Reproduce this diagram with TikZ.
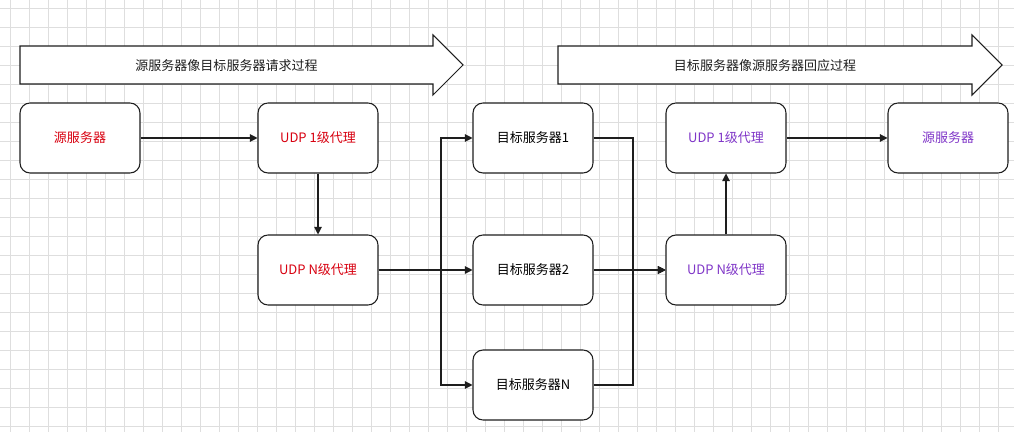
\documentclass[tikz,border=0pt]{standalone}
\usepackage{fontspec}
\newfontfamily\cjk{Noto Sans CJK SC}
\usetikzlibrary{arrows.meta}
\definecolor{hongse}{HTML}{D80010}
\definecolor{zise}{HTML}{8036C8}
\definecolor{xian}{HTML}{1E1E1E}
\tikzset{
  gridline/.style={draw=black!13, line width=0.5pt},
  kuang/.style={draw=xian, fill=white, rounded corners=0.2cm, line width=0.6pt,
    minimum width=2.4cm, minimum height=1.4cm, font=\cjk\fontsize{7.4}{9}\selectfont},
  jiantou/.style={draw=xian, line width=0.6pt, -{Triangle[length=0.15cm,width=0.15cm]}},
  datoubox/.style={draw=xian, fill=white, line width=0.6pt}
}
\newcommand{\kuang}[5]{\node[kuang, text=#5] (#1) at (#2,#3) {#4};}
\newcommand{\datou}[4]{
  \draw[datoubox] (#2,46)--(#3,46)--(#3,35)--(#3+30,65)--(#3,95)--(#3,84)--(#2,84)--cycle;
  \node[font=\cjk\fontsize{7.4}{9}\selectfont, text=xian] (#1) at ({(#2+#3)/2},66) {#4};
}

\begin{document}
\begin{tikzpicture}[x=0.02cm, y=-0.02cm]

  \useasboundingbox (0,0) rectangle (1014,432);
  \fill[white] (0,0) rectangle (1014,432);

  % Wangge
  % ======
  \foreach \x in {10, 29, ..., 1014}
  \draw[gridline] (\x,0)--(\x,432);
  \foreach \y in {8, 27, ..., 432}
  \draw[gridline] (0,\y)--(1014,\y);

  % Datou
  % =====
  \datou{qingqiu}{20}{433}{源服务器像目标服务器请求过程}
  \datou{huiying}{558}{972}{目标服务器像源服务器回应过程}

  % Qingqiu
  % -------
  \kuang{yuanA}{80}{138}{源服务器}{hongse}
  \kuang{udpA}{318}{138}{UDP 1级代理}{hongse}
  \kuang{udpNA}{318}{270}{UDP N级代理}{hongse}

  % Mubiao
  % ------
  \kuang{mb1}{533}{138}{目标服务器1}{black}
  \kuang{mb2}{533}{270}{目标服务器2}{black}
  \kuang{mbN}{533}{385}{目标服务器N}{black}

  % Huiying
  % -------
  \kuang{udpNB}{726}{270}{UDP N级代理}{zise}
  \kuang{udpB}{726}{138}{UDP 1级代理}{zise}
  \kuang{yuanB}{948}{138}{源服务器}{zise}

  \coordinate (fen) at (441,270);
  \coordinate (he) at (633,270);

  % Lianxian
  % ========
  \draw[jiantou] (yuanA)--(udpA);
  \draw[jiantou] (udpA)--(udpNA);
  \draw[jiantou] (udpNA)--(mb2);
  \draw[jiantou] (udpNA.east)--(fen)|-(mb1.west);
  \draw[jiantou] (udpNA.east)--(fen)|-(mbN.west);
  \draw[jiantou] (mb2)--(udpNB);
  \draw[jiantou] (mb1.east)-|(he)--(udpNB.west);
  \draw[jiantou] (mbN.east)-|(he)--(udpNB.west);
  \draw[jiantou] (udpNB)--(udpB);
  \draw[jiantou] (udpB)--(yuanB);

\end{tikzpicture}
\end{document}
